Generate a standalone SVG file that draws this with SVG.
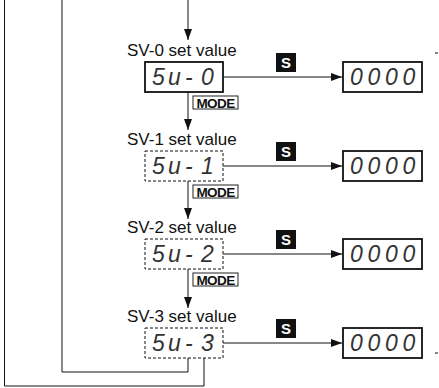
<svg xmlns="http://www.w3.org/2000/svg" width="439" height="388" viewBox="0 0 439 388">
<style>
.lbl{font-family:"Liberation Sans",Arial,sans-serif;font-size:17px;fill:#111}
.seg{font-family:"Liberation Sans",Arial,sans-serif;font-style:italic;font-size:23px;fill:#333}
.disp{fill:#fff;stroke:#111;stroke-width:1.8}
.dash{fill:#fff;stroke:#111;stroke-width:1;stroke-dasharray:3 2}
.sbox{fill:#111}
.stxt{font-family:"Liberation Sans",Arial,sans-serif;font-weight:bold;font-size:15px;fill:#fff}
.mbox{fill:#fff;stroke:#222;stroke-width:1}
.mtxt{font-family:"Liberation Sans",Arial,sans-serif;font-weight:bold;font-size:13.5px;fill:#111;letter-spacing:-0.6px}
.ln{fill:none;stroke:#111;stroke-width:1}
</style>
<defs>
<marker id="ah" markerUnits="userSpaceOnUse" markerWidth="11" markerHeight="8" refX="11" refY="4" orient="auto">
<path d="M0,0 L11,4 L0,8 z" fill="#111"/>
</marker>
</defs>

<g id="connectors">
<line class="ln" x1="188" y1="0" x2="188" y2="40" marker-end="url(#ah)"/>
<line class="ln" x1="188" y1="92" x2="188" y2="130" marker-end="url(#ah)"/>
<line class="ln" x1="188" y1="181" x2="188" y2="219" marker-end="url(#ah)"/>
<line class="ln" x1="188" y1="269" x2="188" y2="308" marker-end="url(#ah)"/>
<line class="ln" x1="223" y1="77" x2="342" y2="77" marker-end="url(#ah)"/>
<line class="ln" x1="223" y1="166" x2="342" y2="166" marker-end="url(#ah)"/>
<line class="ln" x1="223" y1="254" x2="342" y2="254" marker-end="url(#ah)"/>
<line class="ln" x1="223" y1="343" x2="342" y2="343" marker-end="url(#ah)"/>
<path class="ln" d="M62,0 V372 H188 V358"/>
<path class="ln" d="M4.5,0 V386 H204 V358"/>
<line class="ln" x1="435" y1="53" x2="438" y2="53"/>
<line class="ln" x1="435" y1="353" x2="438" y2="353"/>
</g>

<g id="sv0">
<text class="lbl" x="127" y="56">SV-0 set value</text>
<rect class="disp" x="145" y="62" width="78" height="30"/>
<text class="seg" x="152 168 185 201" y="85">5u-0</text>
</g>
<g id="s0"><rect class="sbox" x="276" y="53" width="20" height="19"/><text class="stxt" x="286" y="68" text-anchor="middle">S</text></g>
<g id="mode0"><rect class="mbox" x="193" y="96" width="45" height="13"/><text class="mtxt" x="215.5" y="107.5" text-anchor="middle">MODE</text></g>
<g id="val0"><rect class="disp" x="343" y="62" width="79" height="30"/><text class="seg" x="350 367.5 385 402.5" y="85">0000</text></g>

<g id="sv1">
<text class="lbl" x="127" y="145">SV-1 set value</text>
<rect class="dash" x="145" y="151" width="78" height="30"/>
<text class="seg" x="152 168 185 201" y="174">5u-1</text>
</g>
<g id="s1"><rect class="sbox" x="276" y="142" width="20" height="19"/><text class="stxt" x="286" y="157" text-anchor="middle">S</text></g>
<g id="mode1"><rect class="mbox" x="193" y="185" width="45" height="13"/><text class="mtxt" x="215.5" y="196.5" text-anchor="middle">MODE</text></g>
<g id="val1"><rect class="disp" x="343" y="151" width="79" height="30"/><text class="seg" x="350 367.5 385 402.5" y="174">0000</text></g>

<g id="sv2">
<text class="lbl" x="127" y="233">SV-2 set value</text>
<rect class="dash" x="145" y="239" width="78" height="30"/>
<text class="seg" x="152 168 185 201" y="262">5u-2</text>
</g>
<g id="s2"><rect class="sbox" x="276" y="230" width="20" height="19"/><text class="stxt" x="286" y="245" text-anchor="middle">S</text></g>
<g id="mode2"><rect class="mbox" x="193" y="273" width="45" height="13"/><text class="mtxt" x="215.5" y="284.5" text-anchor="middle">MODE</text></g>
<g id="val2"><rect class="disp" x="343" y="239" width="79" height="30"/><text class="seg" x="350 367.5 385 402.5" y="262">0000</text></g>

<g id="sv3">
<text class="lbl" x="127" y="322">SV-3 set value</text>
<rect class="dash" x="145" y="328" width="78" height="30"/>
<text class="seg" x="152 168 185 201" y="351">5u-3</text>
</g>
<g id="s3"><rect class="sbox" x="276" y="319" width="20" height="19"/><text class="stxt" x="286" y="334" text-anchor="middle">S</text></g>
<g id="val3"><rect class="disp" x="343" y="328" width="79" height="30"/><text class="seg" x="350 367.5 385 402.5" y="351">0000</text></g>
</svg>
